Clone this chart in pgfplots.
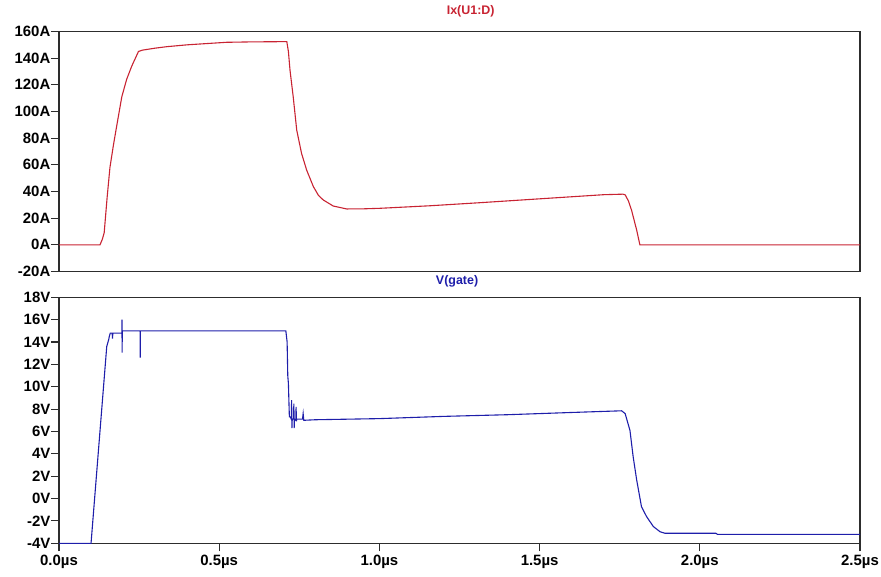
\documentclass[border=0pt]{standalone}
\usepackage{fontspec}
\setmainfont{Liberation Sans}
\usepackage{pgfplots}
\pgfplotsset{compat=1.18}

\definecolor{ltred}{RGB}{200,35,50}
\definecolor{ltblue}{RGB}{30,30,170}
\definecolor{axgray}{RGB}{45,45,45}

\pgfplotsset{ltspice/.style={
    scale only axis, width=801bp, anchor=south west,
    xmin=0, xmax=2.5, clip=false,
    axis line style={axgray, line width=1.4bp},
    tick style={axgray, line width=1.1bp},
    tick align=outside, major tick length=8bp,
    ytick pos=left, xtick pos=bottom,
    tick label style={font=\bfseries\fontsize{15}{17}\selectfont},
    yticklabel style={inner sep=0.5bp},
    title style={font=\bfseries\fontsize{12.5}{14}\selectfont, anchor=base},
}}

\begin{document}
\begin{tikzpicture}
\useasboundingbox (0,0) rectangle (881bp,577bp);

% drain current
\begin{axis}[ltspice,
    at={(59bp,305.5bp)}, height=240bp,
    ymin=-20, ymax=160,
    ytick={-20,0,...,160},
    yticklabels={-20A,0A,20A,40A,60A,80A,100A,120A,140A,160A},
    xtick=\empty,
    title={Ix(U1:D)},
    title style={at={(0.514,1)}, yshift=10.8bp, text=ltred},
]
\addplot[ltred, line width=1.1bp] coordinates {
    (0,0)(0.128,0)(0.135,4)(0.141,9)(0.150,35)(0.159,58)(0.170,75)(0.180,89)
    (0.196,111)(0.211,124)(0.227,134)(0.248,145)(0.260,146)(0.300,147.5)
    (0.336,148.6)(0.400,150)(0.523,151.9)(0.600,152.2)(0.711,152.4)
    (0.716,145)(0.721,131)(0.731,111)(0.742,86)(0.757,68.6)(0.773,56)
    (0.794,43.6)(0.810,37)(0.825,33.6)(0.856,29.1)(0.898,26.9)(0.950,27)
    (1.002,27.4)(1.158,29.3)(1.314,31.6)(1.500,34.5)(1.700,37.6)(1.760,38)
    (1.767,37.5)(1.777,33)(1.787,26)(1.803,11)(1.813,0)(2.5,0)
};
\end{axis}

% gate voltage
\begin{axis}[ltspice,
    at={(59bp,33.7bp)}, height=246bp,
    ymin=-4, ymax=18,
    ytick={-4,-2,...,18},
    yticklabels={-4V,-2V,0V,2V,4V,6V,8V,10V,12V,14V,16V,18V},
    xtick={0,0.5,...,2.5},
    xticklabels={0.0µs,0.5µs,1.0µs,1.5µs,2.0µs,2.5µs},
    title={V(gate)},
    title style={at={(0.497,1)}, yshift=6.5bp, text=ltblue},
]
\addplot[ltblue, line width=1.1bp] coordinates {
    (0,-4)(0.100,-4)(0.149,13.6)(0.155,14.2)(0.157,14.5)(0.160,14.8)
    (0.166,14.8)(0.167,14.3)(0.168,14.8)(0.196,14.8)(0.1965,16)(0.197,13.05)
    (0.1975,15)(0.253,15)(0.2535,12.6)(0.254,15)(0.708,15)(0.712,14)
    (0.714,11)(0.716,10.3)(0.719,7.3)(0.722,7.3)(0.725,7.1)(0.726,8.8)
    (0.727,6.3)(0.728,7.1)(0.732,7.1)(0.733,8.5)(0.734,6.3)(0.735,7.1)
    (0.739,7.0)(0.740,8.2)(0.741,6.9)(0.742,7.1)(0.760,7.1)(0.762,7.6)
    (0.764,7.0)(0.800,7.05)(1.000,7.15)(1.200,7.35)(1.400,7.5)(1.600,7.7)
    (1.756,7.85)(1.767,7.6)(1.782,6.1)(1.792,3.74)(1.803,1.66)(1.818,-0.73)
    (1.834,-1.62)(1.855,-2.5)(1.876,-2.97)(1.891,-3.1)(2.050,-3.1)
    (2.055,-3.2)(2.5,-3.2)
};
\end{axis}
\end{tikzpicture}
\end{document}
